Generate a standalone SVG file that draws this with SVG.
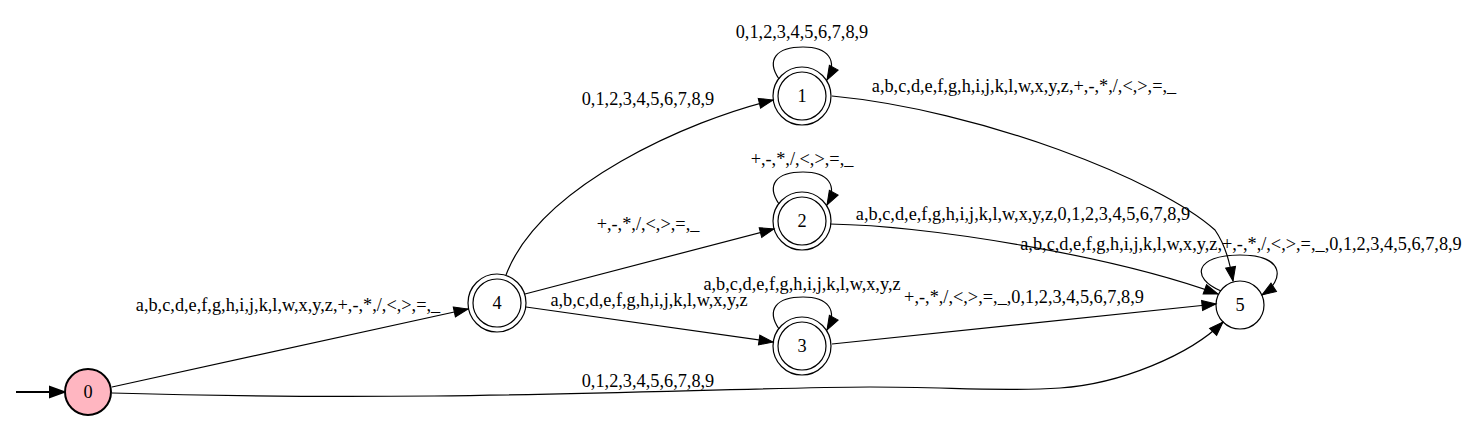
<svg xmlns="http://www.w3.org/2000/svg" width="1474" height="438" viewBox="0 0 1474 438">
<style>
text{font-family:"Liberation Serif","Times New Roman",serif;font-size:18.3px;fill:#000}
.lbl{text-anchor:middle}
.edge{fill:none;stroke:#000;stroke-width:1.2;marker-end:url(#ah)}
.node circle{fill:none;stroke:#000;stroke-width:1.2}
</style>
<defs>
<marker id="ah" viewBox="0 0 14 10" refX="14" refY="5" markerWidth="14" markerHeight="10" markerUnits="userSpaceOnUse" orient="auto" overflow="visible"><path d="M0,0 L14,5 L0,10 z" fill="#000" stroke="#000" stroke-width="1"/></marker>
<marker id="ahb" viewBox="0 0 14 10" refX="14" refY="5" markerWidth="14" markerHeight="10" markerUnits="userSpaceOnUse" orient="auto" overflow="visible"><path d="M0,0 L14,5 L0,10 z" fill="#000" stroke="#000" stroke-width="2"/></marker>
</defs>
<rect width="1474" height="438" fill="#fff"/>
<g id="connectors">
<path d="M16,392 L64,392" fill="none" stroke="#000" stroke-width="2" marker-end="url(#ahb)"/>
<path class="edge" d="M112,387 L468,309"/>
<path class="edge" d="M112,393 C450,403 700,388 870,387 C950,387 1000,392 1060,388 C1120,384 1190,355 1223,322"/>
<path class="edge" d="M506,275 C540,185 690,120 773,100"/>
<path class="edge" d="M525,294 L774,229"/>
<path class="edge" d="M526,307 L773,342"/>
<path class="edge" d="M779,79 C766,60 776,47 803,47 C828,47 838,60 827,80"/>
<path class="edge" d="M779,204 C766,185 776,172 803,172 C828,172 838,185 827,205"/>
<path class="edge" d="M779,329 C766,310 776,297 803,297 C828,297 838,310 827,330"/>
<path class="edge" d="M1221,291 C1190,278 1195,255 1240,255 C1285,255 1285,280 1262,295"/>
<path class="edge" d="M832,96 C980,110 1160,180 1215,230 C1226,246 1230,264 1233,281"/>
<path class="edge" d="M830,224 C930,226 1110,255 1218,294"/>
<path class="edge" d="M832,344 L1216,304"/>
<text class="lbl" x="288" y="311">a,b,c,d,e,f,g,h,i,j,k,l,w,x,y,z,+,-,*,/,&lt;,&gt;,=,_</text>
<text class="lbl" x="648" y="387">0,1,2,3,4,5,6,7,8,9</text>
<text class="lbl" x="648" y="105">0,1,2,3,4,5,6,7,8,9</text>
<text class="lbl" x="648" y="230">+,-,*,/,&lt;,&gt;,=,_</text>
<text class="lbl" x="649" y="306">a,b,c,d,e,f,g,h,i,j,k,l,w,x,y,z</text>
<text class="lbl" x="802" y="38">0,1,2,3,4,5,6,7,8,9</text>
<text class="lbl" x="802" y="165">+,-,*,/,&lt;,&gt;,=,_</text>
<text class="lbl" x="802" y="290">a,b,c,d,e,f,g,h,i,j,k,l,w,x,y,z</text>
<text class="lbl" x="1024" y="92">a,b,c,d,e,f,g,h,i,j,k,l,w,x,y,z,+,-,*,/,&lt;,&gt;,=,_</text>
<text class="lbl" x="1023" y="220">a,b,c,d,e,f,g,h,i,j,k,l,w,x,y,z,0,1,2,3,4,5,6,7,8,9</text>
<text class="lbl" x="1024" y="303">+,-,*,/,&lt;,&gt;,=,_,0,1,2,3,4,5,6,7,8,9</text>
<text class="lbl" x="1241" y="250">a,b,c,d,e,f,g,h,i,j,k,l,w,x,y,z,+,-,*,/,&lt;,&gt;,=,_,0,1,2,3,4,5,6,7,8,9</text>
</g>
<g id="node0" class="node"><circle cx="88" cy="392" r="23" style="fill:#ffb6c1;stroke-width:2"/><text class="lbl" x="88" y="398">0</text></g>
<g id="node4" class="node"><circle cx="497" cy="303" r="24"/><circle cx="497" cy="303" r="29"/><text class="lbl" x="497" y="309">4</text></g>
<g id="node1" class="node"><circle cx="802" cy="96" r="24"/><circle cx="802" cy="96" r="29"/><text class="lbl" x="802" y="102">1</text></g>
<g id="node2" class="node"><circle cx="802" cy="221" r="24"/><circle cx="802" cy="221" r="29"/><text class="lbl" x="802" y="227">2</text></g>
<g id="node3" class="node"><circle cx="802" cy="346" r="24"/><circle cx="802" cy="346" r="29"/><text class="lbl" x="802" y="352">3</text></g>
<g id="node5" class="node"><circle cx="1240" cy="305" r="24"/><text class="lbl" x="1240" y="311">5</text></g>
</svg>
